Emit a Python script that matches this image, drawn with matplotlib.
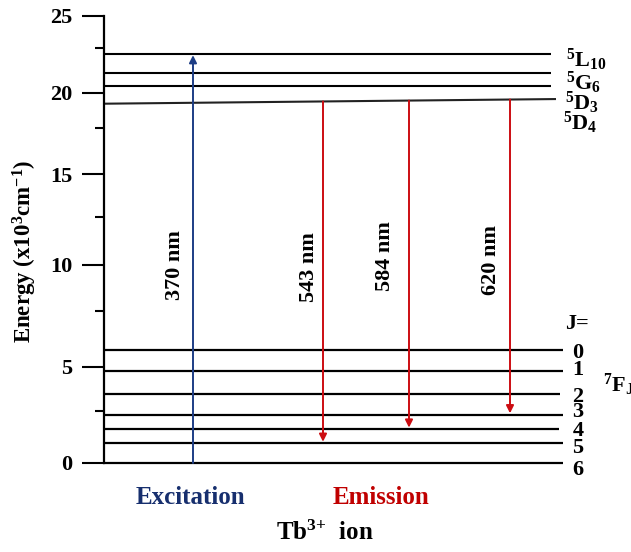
import numpy as np
import matplotlib
matplotlib.use("Agg")
import matplotlib.pyplot as plt

plt.rcParams['font.family'] = ['Liberation Serif', 'DejaVu Serif']
plt.rcParams['font.weight'] = 'bold'
plt.rcParams['mathtext.fontset'] = 'custom'
plt.rcParams['mathtext.rm'] = 'Liberation Serif:bold'
plt.rcParams['mathtext.it'] = 'Liberation Serif:bold'
plt.rcParams['mathtext.bf'] = 'Liberation Serif:bold'

# hand drawn energy axis: tick value -> height above the baseline (px)
tick_vals = [-10, 0, 2.5, 5, 7.5, 10, 12.5, 15, 17.5, 20, 22.5, 25, 35]
tick_h = [-208, 0, 52, 96.3, 152.3, 198, 246.3, 288.7, 335, 370.3, 415, 447.5, 577.5]
major = [0, 5, 10, 15, 20, 25]
minor = [2.5, 7.5, 12.5, 17.5, 22.5]

# Tb3+ levels (x10^3 cm-1)
upper_names = ['$^{5}$L$_{10}$', '$^{5}$G$_{6}$', '$^{5}$D$_{3}$', '$^{5}$D$_{4}$']
upper_left = [22.15, 21.12, 20.37, 19.22]
upper_right = [22.15, 21.12, 20.37, 19.55]
upper_len = [447, 447, 447, 452]

fj_J = [0, 1, 2, 3, 4, 5, 6]
fj_E = [5.75, 4.77, 3.44, 2.32, 1.65, 0.95, 0.0]
fj_len = [459, 459, 456, 459, 455, 459, 459]

# transitions
exc_x = 89
exc_lo, exc_hi = 0.0, 22.1
em_labels = ['543 nm', '584 nm', '620 nm']
em_x = [219, 305, 406]
em_to = [1.02, 1.70, 2.39]


def fwd(v):
    return np.interp(v, tick_vals, tick_h)


def inv(u):
    return np.interp(u, tick_h, tick_vals)


W, H = 631, 552
fig = plt.figure(figsize=(W / 100, H / 100), dpi=100)
ax = fig.add_axes([104 / W, 89 / H, 459 / W, 447.5 / H])
ax.set_yscale('function', functions=(fwd, inv))
ax.set_xlim(0, 459)
ax.set_ylim(0, 25)

for s in ['top', 'right', 'bottom']:
    ax.spines[s].set_visible(False)
ax.spines['left'].set_linewidth(1.6)
ax.set_xticks([])
ax.set_yticks(major)
ax.set_yticks(minor, minor=True)
ax.set_yticklabels([str(m) for m in major], fontsize=16, fontweight='bold')
ax.tick_params(axis='y', which='major', direction='out', length=16, width=1.5, pad=7)
ax.tick_params(axis='y', which='minor', direction='out', length=6.5, width=1.5)

# levels
for i in range(len(upper_left)):
    c = 'black' if i < 3 else '#222222'
    ax.plot([-1, upper_len[i]], [upper_left[i], upper_right[i]], color=c, lw=1.5,
            clip_on=False, solid_capstyle='butt')
for i in range(len(fj_E)):
    ax.plot([-1, fj_len[i]], [fj_E[i], fj_E[i]], color='black', lw=1.6,
            clip_on=False, solid_capstyle='butt')

# excitation arrow
blue = '#1d3d85'
red = '#cc0d12'
ax.annotate('', xy=(exc_x, exc_hi), xytext=(exc_x, exc_lo),
            arrowprops=dict(arrowstyle='-|>', color=blue, lw=1.4, mutation_scale=11,
                            shrinkA=0, shrinkB=0))

# emission arrows start on the sloped 5D4 line
for i in range(len(em_x)):
    start = np.interp(em_x[i], [0, upper_len[3]], [upper_left[3], upper_right[3]])
    ax.annotate('', xy=(em_x[i], em_to[i]), xytext=(em_x[i], start),
                arrowprops=dict(arrowstyle='-|>', color=red, lw=1.4, mutation_scale=11,
                                shrinkA=0, shrinkB=0))


def ftxt(x, y, s, **kw):
    fig.text(x / W, 1 - y / H, s, **kw)


ftxt(175.5, 265, '370 nm', rotation=90, ha='center', va='center', fontsize=16)
ftxt(309, 267, em_labels[0], rotation=90, ha='center', va='center', fontsize=16)
ftxt(384.5, 256, em_labels[1], rotation=90, ha='center', va='center', fontsize=16)
ftxt(491.5, 260, em_labels[2], rotation=90, ha='center', va='center', fontsize=16)

ftxt(25, 251, 'Energy (x10$^{3}$cm$^{-1}$)', rotation=90, ha='center', va='center',
     fontsize=16.5)

# right-hand labels
ftxt(566, 60, upper_names[0], ha='left', va='center', fontsize=16)
ftxt(566, 83, upper_names[1], ha='left', va='center', fontsize=16)
ftxt(565, 103, upper_names[2], ha='left', va='center', fontsize=16)
ftxt(563, 123, upper_names[3], ha='left', va='center', fontsize=16)

ftxt(565, 324, 'J=', ha='left', va='center', fontsize=16)
j_y = [353, 370, 397, 412, 431, 448, 470]
for j, y in zip(fj_J, j_y):
    ftxt(578, y, str(j), ha='center', va='center', fontsize=16)
ftxt(603, 385, '$^{7}$F$_{\\mathrm{J}}$', ha='left', va='center', fontsize=16)

ftxt(190, 498, 'Excitation', ha='center', va='center', fontsize=18, color='#172f6e')
ftxt(381, 498, 'Emission', ha='center', va='center', fontsize=18, color='#c00000')
ftxt(325, 533, 'Tb$^{3{+}}$  ion', ha='center', va='center', fontsize=18)

fig.savefig('out.png', dpi=100)
